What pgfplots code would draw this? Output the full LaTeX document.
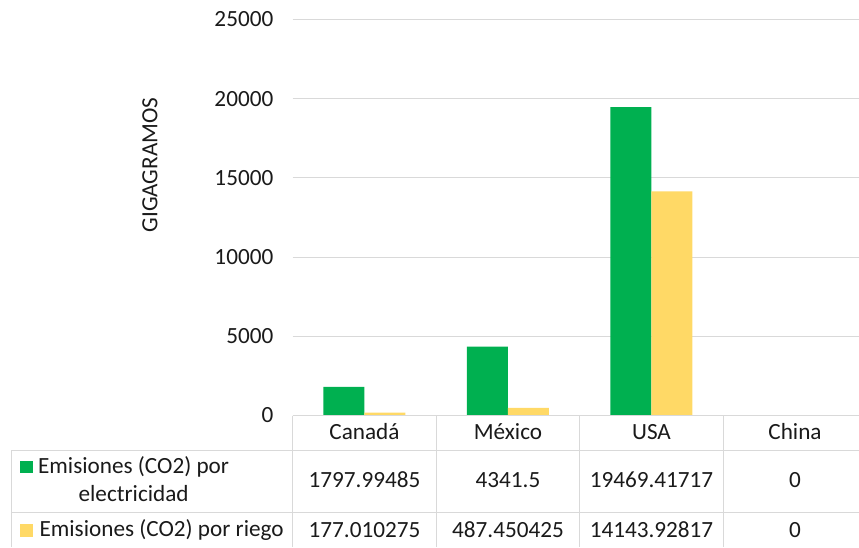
\documentclass[border=0pt]{standalone}
\usepackage{pgfplots}
\pgfplotsset{compat=1.18}
\usepackage{fontspec}
\setmainfont{Carlito}

\definecolor{verde}{HTML}{00B050}
\definecolor{amarillo}{HTML}{FFD966}
\definecolor{rejilla}{HTML}{D9D9D9}
\definecolor{texto}{HTML}{1A1A1A}

\begin{document}
\begin{tikzpicture}[font=\fontsize{17.4}{20}\selectfont, text=texto]
\useasboundingbox (0,0) rectangle (644.25pt,-410.25pt);
\begin{axis}[
    at={(219.5pt,-311.6pt)}, anchor=south west,
    scale only axis, width=424.7pt, height=297pt,
    xmin=0, xmax=3.946,
    ymin=0, ymax=25000,
    xtick=\empty,
    ytick={0,5000,10000,15000,20000,25000},
    yticklabels={0,5000,10000,15000,20000,25000},
    scaled y ticks=false,
    yticklabel style={xshift=-11pt},
    ymajorgrids=true,
    grid style={rejilla, line width=0.75pt},
    axis line style={draw=none},
    major tick length=0pt,
    clip=false,
]
% Emisiones (CO2) por electricidad
\addplot[ybar, bar width=0.2857, bar shift=-0.14285, fill=verde, draw=none]
    coordinates {(0.5,1797.99485) (1.5,4341.5) (2.5,19469.41717) (3.5,0)};
% Emisiones (CO2) por riego
\addplot[ybar, bar width=0.2857, bar shift=0.14285, fill=amarillo, draw=none]
    coordinates {(0.5,177.010275) (1.5,487.450425) (2.5,14143.92817) (3.5,0)};
\end{axis}

% tabla de datos, en pixeles desde la esquina superior izquierda
\begin{scope}[x=0.75pt, y=-0.75pt]
  \node[rotate=90] at (150,165) {GIGAGRAMOS};
  \begin{scope}[draw=rejilla, line width=0.75pt]
    \draw (292.7,415.5) -- (859,415.5);
    \draw (11.7,450) -- (859,450);
    \draw (11.7,512) -- (859,512);
    \draw (11.7,450) -- (11.7,547);
    \foreach \xx in {292.7,436.2,579.7,723.2} \draw (\xx,415.5) -- (\xx,547);
  \end{scope}
  % categorias
  \node[anchor=base] at (364.5,439.3) {Canadá};
  \node[anchor=base] at (508,439.3) {México};
  \node[anchor=base] at (651.5,439.3) {USA};
  \node[anchor=base] at (795,439.3) {China};
  % leyenda
  \fill[verde] (20,460.7) rectangle (33,473);
  \fill[amarillo] (20,524) rectangle (33,537);
  \node[anchor=base] at (133.6,473.3) {Emisiones (CO2) por};
  \node[anchor=base] at (133.6,501.7) {electricidad};
  \node[anchor=base west, inner sep=0pt] at (39.3,536.7) {Emisiones (CO2) por riego};
  % valores
  \node[anchor=base] at (364.5,487.3) {1797.99485};
  \node[anchor=base] at (508,487.3) {4341.5};
  \node[anchor=base] at (651.5,487.3) {19469.41717};
  \node[anchor=base] at (795,487.3) {0};
  \node[anchor=base] at (364.5,537.5) {177.010275};
  \node[anchor=base] at (508,537.5) {487.450425};
  \node[anchor=base] at (651.5,537.5) {14143.92817};
  \node[anchor=base] at (795,537.5) {0};
\end{scope}
\end{tikzpicture}
\end{document}
